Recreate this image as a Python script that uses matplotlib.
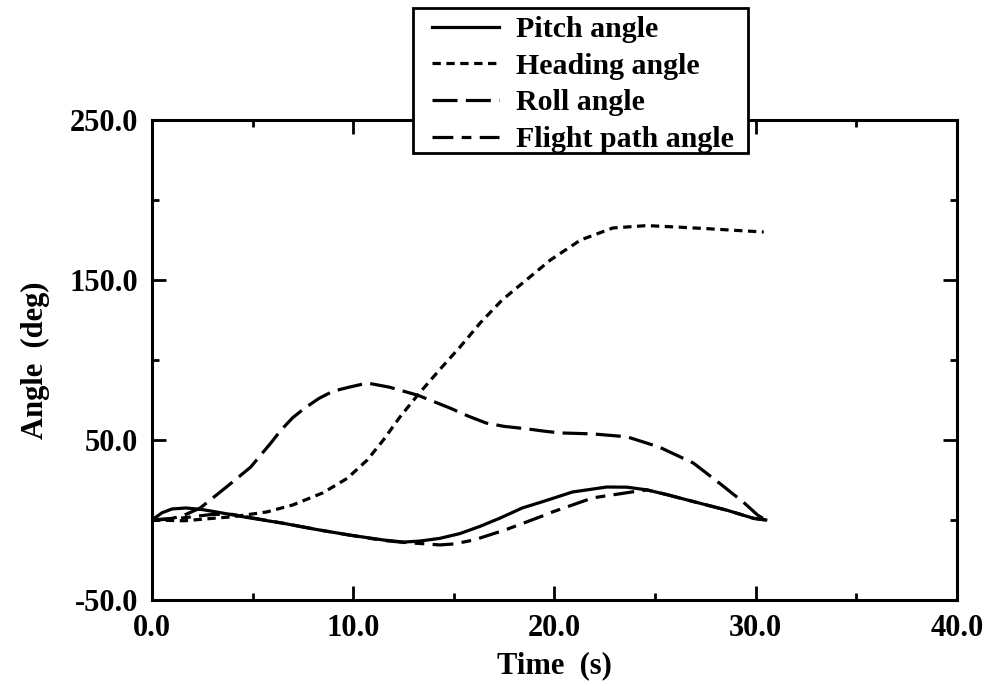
import matplotlib
matplotlib.use("Agg")
import matplotlib.pyplot as plt
from matplotlib.patches import Rectangle
from matplotlib.ticker import MultipleLocator, FormatStrFormatter

plt.rcParams['font.family'] = ['Liberation Serif', 'DejaVu Serif']
plt.rcParams['font.weight'] = 'bold'
plt.rcParams['lines.scale_dashes'] = False

# Time histories of the attitude angles (deg)
t_pitch = [0, 0.5, 1.0, 1.7, 2.5, 3.2, 4.0, 4.9, 6.5, 8.2, 9.8, 11.5, 12.5, 13.3,
           14.3, 15.3, 16.3, 17.3, 18.4, 19.3, 20.9, 22.6, 23.6, 24.6, 25.6,
           26.6, 28.6, 29.9, 30.5]
pitch = [0, 4.5, 6.9, 7.5, 6.5, 5, 3.2, 1.2, -2, -6, -9.4, -12.5, -13.8, -13.2,
         -11.5, -8.5, -4, 1.2, 7.5, 11, 17.5, 20.6, 20.5, 18.8, 15.8,
         12.5, 6, 1, 0]

t_heading = [0, 1.6, 3, 4, 5.7, 7, 8.5, 9.7, 10.7, 11.5, 12.3, 13.2, 14.3, 15.3,
             16.3, 17.4, 18.6, 19.8, 21.3, 22.9, 24.6, 26.2, 27.7, 29, 30.4]
heading = [0, -0.5, 1, 2, 5, 9.4, 17, 26, 37.5, 50, 64, 78, 94, 108,
           123, 137.5, 150, 162.5, 175, 182.5, 184, 183, 182, 181, 180]

t_roll = [0, 1.0, 1.6, 2.4, 3.7, 4.9, 5.9, 6.4, 7.0, 7.6, 8.3, 9.0, 9.8, 10.7,
          11.8, 13.2, 14.8, 15.7, 16.6, 17.5, 18.6, 19.5, 20.3, 21.9, 23.6,
          25.2, 26.9, 28.2, 29.4, 30.1, 30.5]
roll = [0, 1, 3, 7.5, 20.6, 33, 48, 56, 64, 70, 76, 80.5, 83, 85.6,
        83, 78, 70, 65, 60.6, 58.5, 57, 55.5, 54.4, 53.8, 52,
        45.6, 35.6, 23, 11, 3, 0]

t_gamma = [0, 1.0, 2.0, 3.0, 4.0, 4.9, 6.5, 8.2, 9.8, 11.5, 12.5, 13.2, 14.3, 15.0,
           16.0, 17.6, 19.3, 19.9, 21.9, 23.9, 24.6, 25.6, 26.6, 28.6, 29.9, 30.5]
gamma = [0, 0.5, 2, 3.5, 3.5, 1.5, -2, -6, -9.4, -12.8, -14, -14.6, -15.6, -15,
         -12.5, -6, 2, 5, 13.8, 17.6, 18.8, 15.8, 12.5, 6, 1, 0]

fig = plt.figure(figsize=(9.9, 6.86), dpi=100)
ax = fig.add_axes([0.1535, 0.1254, 0.8131, 0.6997])

lw = 2.3
ax.plot(t_pitch, pitch, color='black', lw=lw, label='Pitch angle')
ax.plot(t_heading, heading, color='black', lw=lw, dashes=(6, 4), label='Heading angle')
ax.plot(t_roll, roll, color='black', lw=lw, dashes=(18, 6), label='Roll angle')
ax.plot(t_gamma, gamma, color='black', lw=lw, dashes=(15, 6, 7, 6), label='Flight path angle')

ax.set_xlim(0, 40)
ax.set_ylim(-50, 250)
ax.xaxis.set_major_locator(MultipleLocator(10))
ax.xaxis.set_minor_locator(MultipleLocator(5))
ax.set_yticks([-50, 50, 150, 250])
ax.set_yticks([0, 100, 200], minor=True)
ax.xaxis.set_major_formatter(FormatStrFormatter('%.1f'))
ax.yaxis.set_major_formatter(FormatStrFormatter('%.1f'))

ax.tick_params(which='both', direction='in', top=True, right=True,
               width=2, labelsize=22, colors='black')
ax.tick_params(which='major', length=10)
ax.tick_params(which='minor', length=5)
ax.tick_params(axis='x', pad=10)
ax.tick_params(axis='y', pad=10)
for s in ax.spines.values():
    s.set_linewidth(2.2)

ax.set_xlabel('Time  (s)', fontsize=22, fontweight='bold', labelpad=6)
ax.set_ylabel('Angle  (deg)', fontsize=22, fontweight='bold', labelpad=14)

# legend box sits over the top edge of the axes
box = Rectangle((0.324, 0.931), 0.416, 0.302, transform=ax.transAxes,
                facecolor='white', edgecolor='black', lw=2, clip_on=False, zorder=4)
ax.add_patch(box)
leg = ax.legend(loc='upper left', bbox_to_anchor=(0.3478, 1.216), fontsize=21.5,
                frameon=False, handlelength=2.25, handletextpad=0.56,
                labelspacing=0.32, borderpad=0, borderaxespad=0)
leg.set_zorder(5)

fig.savefig('out.png', dpi=100)
